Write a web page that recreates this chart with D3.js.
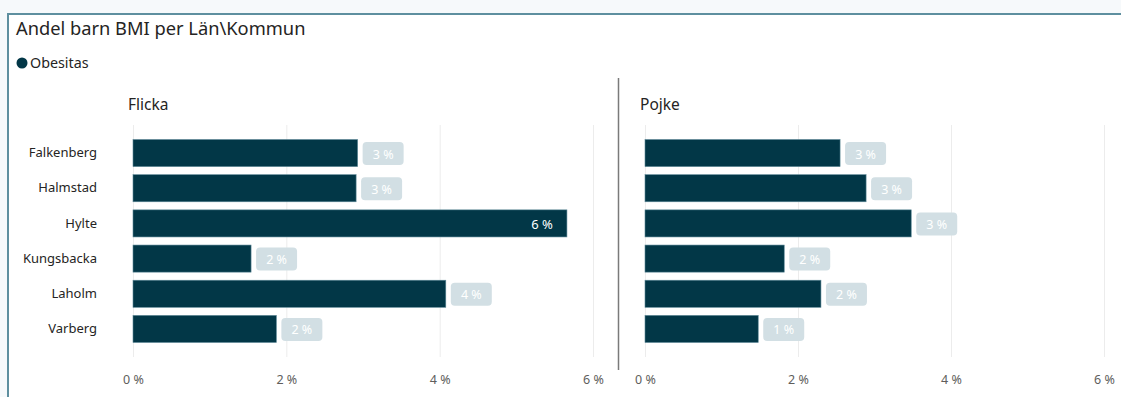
<!DOCTYPE html>
<html><head><meta charset="utf-8">
<script src="https://cdn.jsdelivr.net/npm/d3@7"></script>
<style>
html,body{margin:0;padding:0;background:#f6f9fb;}
svg{display:block;}
text{font-family:"Noto Sans","Open Sans",sans-serif;}
</style></head>
<body>
<svg id="c" width="1121" height="397"></svg>
<script>
const categories = ["Falkenberg","Halmstad","Hylte","Kungsbacka","Laholm","Varberg"];
const flicka = [2.93, 2.91, 5.66, 1.54, 4.08, 1.87];
const pojke = [2.55, 2.89, 3.48, 1.82, 2.30, 1.48];
const tickValues = [0, 2, 4, 6];
const panels = [
  {title:"Flicka", values: flicka, x0: 133, x1: 593, titleX: 128},
  {title:"Pojke", values: pojke, x0: 645, x1: 1104, titleX: 640}
];

const svg = d3.select("#c");
// card
svg.append("rect").attr("x",8).attr("y",14).attr("width",1125).attr("height",400)
  .attr("fill","#ffffff").attr("stroke","#5e8f9f").attr("stroke-width",2);

svg.append("text").attr("x",16).attr("y",35).attr("font-size",18.3).attr("fill","#252423")
  .text("Andel barn BMI per Län\\Kommun");
svg.append("circle").attr("cx",22).attr("cy",63).attr("r",5.5).attr("fill","#023747");
svg.append("text").attr("x",30).attr("y",68).attr("font-size",14.3).attr("fill","#252423").text("Obesitas");

// divider
svg.append("line").attr("x1",618.5).attr("x2",618.5).attr("y1",78).attr("y2",370)
  .attr("stroke","#7a7a7a").attr("stroke-width",1.5);

const y = d3.scaleBand().domain(categories).range([136,346]).paddingInner(0.23).paddingOuter(0.1);

panels.forEach((p,pi)=>{
  const x = d3.scaleLinear().domain([0,6]).range([p.x0,p.x1]);
  const g = svg.append("g");
  g.append("text").attr("x",p.titleX).attr("y",110).attr("font-size",15.5).attr("fill","#252423").text(p.title);
  // grid
  g.selectAll("line.grid").data(tickValues).join("line")
    .attr("x1",d=>x(d)+0.5).attr("x2",d=>x(d)+0.5).attr("y1",125).attr("y2",357)
    .attr("stroke","#ececec").attr("stroke-width",1);
  // axis
  const ax = g.append("g").attr("transform","translate(0,380)")
    .call(d3.axisBottom(x).tickValues(tickValues).tickSize(0).tickFormat(d=>d+" %"));
  ax.select(".domain").remove();
  ax.selectAll("text").attr("font-size",12.5).attr("fill","#605e5c").attr("dy","0.71em").attr("y",0);
  ax.selectAll("text").attr("transform","translate(0,-5)");
  // category labels
  if(pi===0){
    const ya = g.append("g").attr("transform","translate(97,0)")
      .call(d3.axisLeft(y).tickSize(0).tickPadding(0));
    ya.select(".domain").remove();
    ya.selectAll("text").attr("font-size",13).attr("fill","#252423");
  }
  // bars
  const data = categories.map((c,i)=>({c, v:p.values[i]}));
  g.selectAll("rect.bar").data(data).join("rect")
    .attr("x",x(0)).attr("y",d=>y(d.c)).attr("width",d=>x(d.v)-x(0)).attr("height",y.bandwidth())
    .attr("fill","#023747").attr("stroke","#5b8796").attr("stroke-width",0.6);
  // labels
  data.forEach(d=>{
    const lab = Math.round(d.v)+" %";
    const end = x(d.v);
    const cy = y(d.c)+y.bandwidth()/2;
    if(d.v>5){
      g.append("text").attr("x",end-14).attr("y",cy+1).attr("dy","0.36em").attr("text-anchor","end")
        .attr("font-size",13).attr("fill","#ffffff").text(lab);
    } else {
      g.append("rect").attr("x",end+5).attr("y",cy-11).attr("width",41).attr("height",23).attr("rx",4)
        .attr("fill","#d2dfe4");
      g.append("text").attr("x",end+25.5).attr("y",cy+1).attr("dy","0.36em").attr("text-anchor","middle")
        .attr("font-size",12.5).attr("fill","#ffffff").text(lab);
    }
  });
});
</script>
</body></html>
